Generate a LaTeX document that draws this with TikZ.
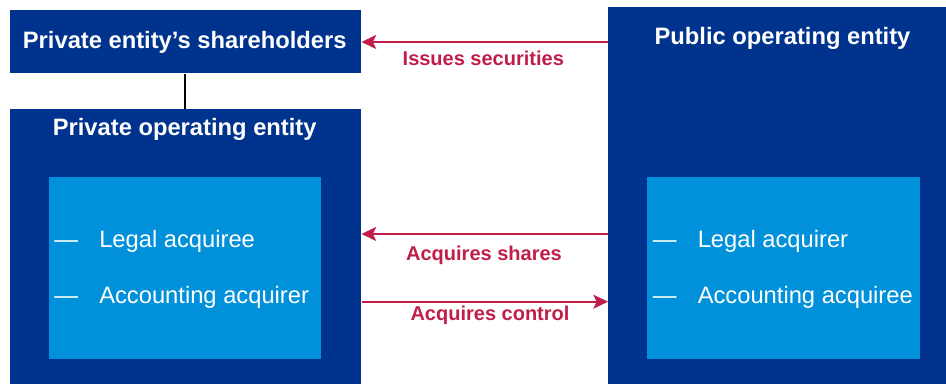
\documentclass[tikz,border=0pt]{standalone}
\usepackage{fontspec}
\setmainfont{Liberation Sans}
\usetikzlibrary{arrows.meta}
\definecolor{kdark}{HTML}{00338D}
\definecolor{klight}{HTML}{0091DA}
\definecolor{kred}{RGB}{192,30,72}
\begin{document}
\begin{tikzpicture}[x=0.75pt,y=-0.75pt,
  darkbox/.style={fill=kdark,draw=none,inner sep=0,anchor=north west},
  lightbox/.style={fill=klight,draw=none,inner sep=0,anchor=north west},
  title/.style={text=white,font=\fontsize{17.8}{20}\selectfont\bfseries,inner sep=0,anchor=base},
  item/.style={text=white,font=\fontsize{17.8}{20}\selectfont,inner sep=0,anchor=base west},
  lab/.style={text=kred,font=\fontsize{15}{18}\selectfont\bfseries,inner sep=0,anchor=base},
  arr/.style={draw=kred,line width=1.5pt,-{Stealth[length=11pt,width=10.5pt,inset=2.5pt]}},
  link/.style={draw=black,line width=1.1pt}]
\useasboundingbox (0,0) rectangle (946,384);
% boxes
\node[darkbox,minimum width=351.5*0.75pt,minimum height=63*0.75pt] (sh) at (9.5,10) {};
\node[darkbox,minimum width=351.5*0.75pt,minimum height=275*0.75pt] (priv) at (9.5,109) {};
\node[lightbox,minimum width=272.5*0.75pt,minimum height=182*0.75pt] (privin) at (48.5,177) {};
\node[darkbox,minimum width=338*0.75pt,minimum height=377*0.75pt] (pub) at (608,7) {};
\node[lightbox,minimum width=273*0.75pt,minimum height=182*0.75pt] (pubin) at (647,177) {};
% titles
\node[title] (tsh) at (184.7,49) {Private entity’s shareholders};
\node[title] (tpriv) at (184.7,136) {Private operating entity};
\node[title] (tpub) at (782.5,45) {Public operating entity};
% items
\node[item] (d1) at (54,247.3) {—};
\node[item] (i1) at (99,247.3) {Legal acquiree};
\node[item] (d2) at (54,304) {—};
\node[item] (i2) at (99,304) {Accounting acquirer};
\node[item] (d3) at (652.5,247.3) {—};
\node[item] (i3) at (697.5,247.3) {Legal acquirer};
\node[item] (d4) at (652.5,304) {—};
\node[item] (i4) at (697.5,304) {Accounting acquiree};
% connector shareholders - private entity
\draw[link] (sh.south -| 185,0) -- (priv.north -| 185,0);
% arrows
\coordinate (y1) at (0,42);
\coordinate (y2) at (0,234);
\coordinate (y3) at (0,301.7);
\draw[arr] (pub.west |- y1) -- (sh.east |- y1);
\draw[arr] (pub.west |- y2) -- (priv.east |- y2);
\draw[arr] (priv.east |- y3) -- (pub.west |- y3);
% labels
\node[lab] (l1) at (483.3,66) {Issues securities};
\node[lab] (l2) at (484,260.7) {Acquires shares};
\node[lab] (l3) at (490,321) {Acquires control};
\end{tikzpicture}
\end{document}
